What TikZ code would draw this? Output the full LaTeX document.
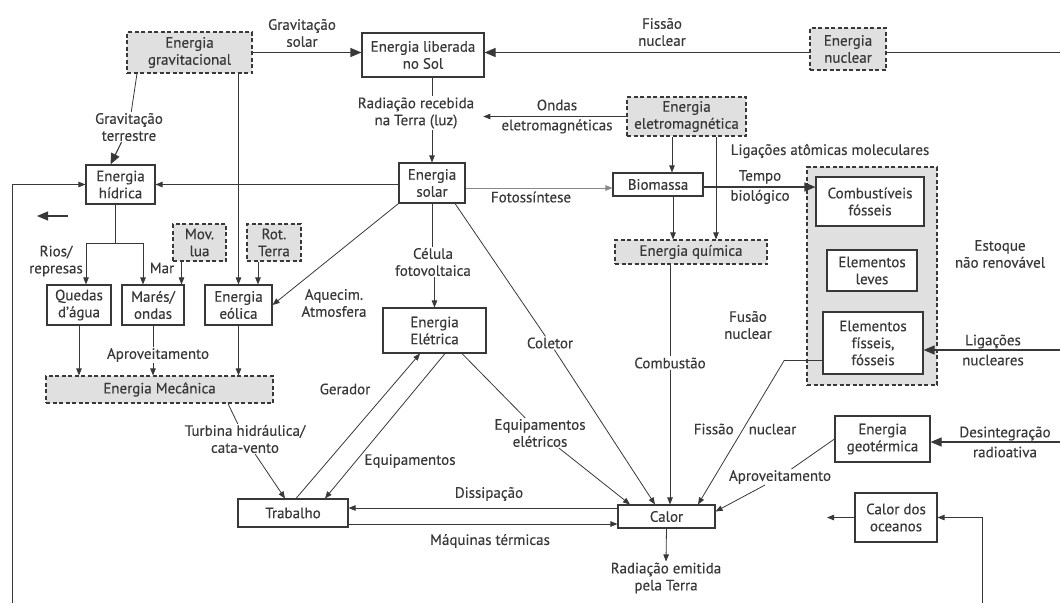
\documentclass[tikz,border=0pt]{standalone}
\usepackage{fontspec}
\setmainfont{PT Sans}[FakeBold=0.3]
\usetikzlibrary{arrows.meta,positioning,calc,backgrounds}
\definecolor{ink}{HTML}{383838}
\definecolor{shade}{HTML}{E0E0E0}

\begin{document}
\begin{tikzpicture}[x=1pt, y=-1pt,
  every node/.style={font=\fontsize{15}{17}\selectfont, text=ink, align=center},
  box/.style={draw=ink, line width=1.1pt, fill=white, inner sep=1pt},
  dbox/.style={box, fill=shade, dash pattern=on 4pt off 2.5pt},
  lbl/.style={inner sep=1pt},
  plain/.style={draw=ink, line width=0.8pt},
  lnk/.style={plain, -{Triangle[length=7pt,width=5.5pt]}},
  big/.style={draw=ink, line width=1.1pt, -{Triangle[length=11pt,width=9pt]}}]
  \useasboundingbox (0,0) rectangle (1060,603);

  % boxes
  \node[dbox, minimum width=125, minimum height=41] (grav) at (189.5,52.5) {Energia\\gravitacional};
  \node[box, minimum width=122, minimum height=44] (sol) at (423,55) {Energia liberada\\no Sol};
  \node[dbox, minimum width=76, minimum height=42] (nuc) at (848,49) {Energia\\nuclear};
  \node[dbox, minimum width=119, minimum height=39] (elm) at (686.5,116.5) {Energia\\eletromagnética};
  \node[box, minimum width=69, minimum height=39] (hid) at (120.5,184.5) {Energia\\hídrica};
  \node[box, minimum width=66, minimum height=40] (solar) at (432,183) {Energia\\solar};
  \node[box, minimum width=90, minimum height=23] (bio) at (658,184.5) {Biomassa};
  \node[dbox, minimum width=152, minimum height=24] (qui) at (691,252) {Energia química};
  \node[dbox, minimum width=130, minimum height=218] (stock) at (872,276) {};
  \node[box, minimum width=108, minimum height=49] (comb) at (870,201.5) {Combustíveis\\fósseis};
  \node[box, minimum width=90, minimum height=41] (leve) at (872,270.5) {Elementos\\leves};
  \node[box, minimum width=100, minimum height=62] (fiss) at (873,343) {Elementos\\físseis,\\fósseis};
  \node[dbox, minimum width=53, minimum height=37] (lua) at (199.5,242.5) {Mov.\\lua};
  \node[dbox, minimum width=54, minimum height=37] (rot) at (274,242.5) {Rot.\\Terra};
  \node[box, minimum width=64, minimum height=40] (qued) at (79,305) {Quedas\\d'água};
  \node[box, minimum width=62, minimum height=40] (mare) at (153,305) {Marés/\\ondas};
  \node[box, minimum width=67, minimum height=40] (eol) at (238.5,305) {Energia\\eólica};
  \node[dbox, minimum width=227, minimum height=27] (mec) at (159.5,389.5) {Energia Mecânica};
  \node[box, minimum width=103, minimum height=45] (ele) at (434.5,330.5) {Energia\\Elétrica};
  \node[box, minimum width=110, minimum height=28] (trab) at (293,513) {Trabalho};
  \node[box, minimum width=97, minimum height=23] (cal) at (666.5,516.5) {Calor};
  \node[box, minimum width=95, minimum height=46] (geo) at (882.5,439) {Energia\\geotérmica};
  \node[box, minimum width=82, minimum height=49] (oce) at (896,517.5) {Calor dos\\oceanos};

  % labels
  \node[lbl] (gsol) at (302,33) {Gravitação\\solar};
  \node[lbl] (fnuc) at (662,32) {Fissão\\nuclear};
  \node[lbl] (gter) at (129,127) {Gravitação\\terrestre};
  \node[lbl] (rad) at (416,113) {Radiação recebida\\na Terra (luz)};
  \node[lbl] (onda) at (557,116.5) {Ondas\\[3pt]eletromagnéticas};
  \node[lbl] (liga) at (830,151) {Ligações atômicas moleculares};
  \node[lbl] (tempo) at (760,187) {Tempo\\[3pt]biológico};
  \node[lbl] (foto) at (531,197) {Fotossíntese};
  \node[lbl] (estq) at (1000,254) {Estoque\\não renovável};
  \node[lbl] (fus) at (748,325) {Fusão\\nuclear};
  \node[lbl] (lnuc) at (993,350) {Ligações\\[3pt]nucleares};
  \node[lbl] (cbst) at (670,363) {Combustão};
  \node[lbl] (colt) at (550,343) {Coletor};
  \node[lbl] (cel) at (433,262) {Célula\\fotovoltaica};
  \node[lbl] (aqc) at (334,303) {Aquecim.\\Atmosfera};
  \node[lbl] (rios) at (56,261) {Rios/\\represas};
  \node[lbl] (mar) at (162,268) {Mar};
  \node[lbl] (aprv) at (158,355) {Aproveitamento};
  \node[lbl] (ger) at (345,389) {Gerador};
  \node[lbl] (turb) at (245,439) {Turbina hidráulica/\\cata-vento};
  \node[lbl] (eqp) at (410,461) {Equipamentos};
  \node[lbl] (eqel) at (540,433) {Equipamentos\\elétricos};
  \node[lbl] (diss) at (489,494) {Dissipação};
  \node[lbl] (maq) at (490,541) {Máquinas térmicas};
  \node[lbl] (rade) at (666,578) {Radiação emitida\\pela Terra};
  \node[lbl] (fnuc2) at (745,429) {Fissão\quad nuclear};
  \node[lbl] (aprv2) at (780,477) {Aproveitamento};
  \node[lbl] (desi) at (1005,442) {Desintegração\\[3pt]radioativa};

  % free ends
  \coordinate (nucR) at (1060,52.5);
  \coordinate (loopB) at (12,603);
  \coordinate (fa1) at (68,216);
  \coordinate (fa2) at (37,216);
  \coordinate (desR) at (1060,442);
  \coordinate (lnR) at (1060,350);
  \coordinate (ocB) at (982,603);
  \coordinate (ocL) at (827,521);

  % sun and sources
  \draw[big] (grav.east) -- (grav.east -| sol.west);
  \draw[big] (nuc.west |- grav.east) -- (grav.east -| sol.east);
  \draw[plain] (nucR) -- (nuc.east |- nucR);
  \draw[plain] ([xshift=-52.5pt]grav.south) -- (gter);
  \draw[big] (gter) -- ([xshift=-10pt]hid.north);
  \draw[lnk] (eol.north |- grav.south) -- (eol.north);
  \draw[lnk] ([xshift=-16pt]rot.south) -- ([xshift=-16pt]rot.south |- eol.north);
  \draw[lnk] ([xshift=-18pt]lua.south) -- ([xshift=-18pt]lua.south |- mare.north);
  \draw[plain] (sol.south -| solar.north) -- (rad.north -| solar.north);
  \draw[lnk] (rad.south -| solar.north) -- (solar.north);
  \draw[lnk] (elm.west) -- ([xshift=8pt]elm.west -| rad.east);
  \draw[lnk] ([xshift=-14.5pt]elm.south) -- ([xshift=-14.5pt]elm.south |- bio.north);
  \draw[lnk] ([xshift=29.5pt]elm.south) -- ([xshift=29.5pt]elm.south |- qui.north);

  % water
  \coordinate (hs) at ([xshift=-5pt, yshift=-39pt]hid.south);
  \draw[plain] ([xshift=-5pt]hid.south) -- (hs);
  \draw[lnk] (hs) -| ([xshift=7pt]qued.north);
  \draw[lnk] (hs) -| ([xshift=-10pt]mare.north);
  \draw[lnk] (solar.west |- hid.east) -- (hid.east);
  \draw[lnk] (loopB) |- (hid.west);
  \draw[big] (fa1) -- (fa2);

  % solar energy
  \draw[lnk, draw=ink!60] ([yshift=-5pt]solar.east) -- ([yshift=-5pt]solar.east -| bio.west);
  \draw[lnk] (solar.south west) -- (eol.east);
  \draw[plain] (solar.south) -- (cel.north -| solar.south);
  \draw[lnk] (cel.south -| ele.north) -- (ele.north);
  \draw[plain] ([xshift=23pt]solar.south) -- (colt);
  \draw[lnk] (colt) -- ([xshift=-11.5pt]cal.north);

  % biomass, chemistry, stock
  \draw[lnk] ([xshift=15pt]bio.south) -- ([xshift=15pt]bio.south |- qui.north);
  \draw[big] ([yshift=-2.5pt]bio.east) -- ([yshift=-2.5pt]bio.east -| comb.west);
  \draw[plain] ([xshift=-21pt]qui.south) -- (cbst.north -| cbst);
  \draw[lnk] (cbst.south) -- (cal.north -| cbst);
  \draw[plain] ([yshift=-17pt]fiss.west) -- ++(-38,0) coordinate (fk);
  \draw[lnk] (fk) -- ([xshift=31.5pt]cal.north);
  \draw[big] (lnR) -- (lnR -| fiss.east);
  \draw[big] (desR) -- (desR -| geo.east);
  \draw[plain] (geo.west) -- (aprv2);
  \draw[lnk] (aprv2) -- ([yshift=5pt]cal.east);
  \draw[lnk] (ocB) |- (oce.east);
  \draw[lnk] (oce.west) -- (ocL |- oce.west);

  % mechanical work
  \foreach \n in {qued, eol}
    \draw[lnk] (\n.south) -- (\n.south |- mec.north);
  \draw[plain] (mare.south) -- (aprv.north -| mare.south);
  \draw[lnk] (aprv.south -| mare.south) -- (mare.south |- mec.north);
  \draw[plain] ([xshift=68.5pt]mec.south) -- (turb);
  \draw[lnk] (turb) -- ([xshift=-8pt]trab.north);
  \draw[lnk] ([xshift=3pt]trab.north) -- ([xshift=-14.5pt]ele.south);
  \draw[lnk] ([xshift=10.5pt]ele.south) -- ([xshift=32pt]trab.north);
  \draw[plain] ([xshift=27.5pt]ele.south) -- (eqel);
  \draw[lnk] (eqel) -- ([xshift=-36.5pt]cal.north);
  \draw[lnk] ([yshift=8.5pt]cal.west) -- ([yshift=8.5pt]cal.west -| trab.east);
  \draw[lnk] ([yshift=-11pt]trab.east) -- ([yshift=-11pt]trab.east -| cal.west);
  \draw[lnk] (cal.south) -- (rade.north);
\end{tikzpicture}
\end{document}
